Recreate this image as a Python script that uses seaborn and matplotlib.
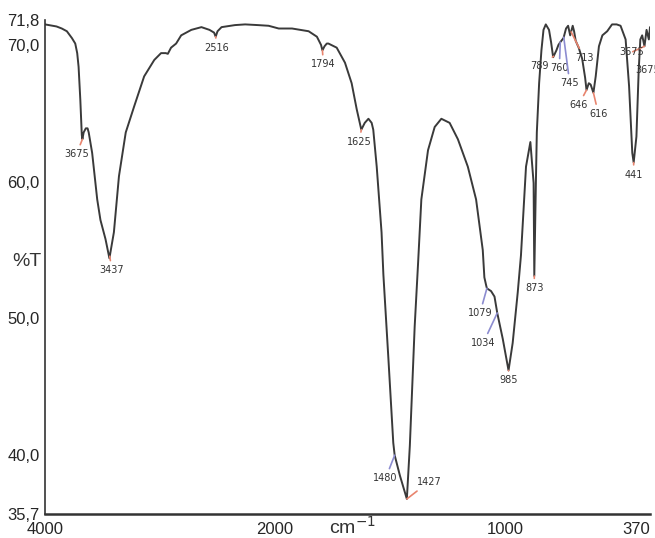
import numpy as np
import pandas as pd
import seaborn as sns
import matplotlib.pyplot as plt

# ---------------- DATA ------------------
wavenumber = [4000, 3900, 3854, 3810, 3766, 3737, 3720, 3708, 3693, 3680,
              3675, 3664, 3645, 3630, 3620, 3590, 3546, 3518, 3474, 3440,
              3401, 3357, 3298, 3225, 3138, 3050, 2991, 2950, 2932, 2904,
              2860, 2816, 2728, 2640, 2570, 2530, 2516, 2500, 2465, 2348,
              2260, 2150, 2056, 1984, 1926, 1854, 1818, 1800, 1794, 1785,
              1775, 1768, 1732, 1696, 1667, 1645, 1625, 1610, 1594, 1580,
              1573, 1558, 1537, 1529, 1507, 1486, 1480, 1457, 1427, 1414,
              1393, 1378, 1364, 1335, 1306, 1277, 1241, 1205, 1162, 1126,
              1097, 1090, 1082, 1079, 1061, 1046, 1034, 1010, 985, 967,
              945, 931, 909, 890, 876, 873, 866, 862, 852, 842,
              833, 823, 809, 800, 791, 777, 768, 760, 746, 735,
              726, 717, 706, 700, 693, 680, 665, 652, 646, 636,
              628, 616, 606, 592, 577, 556, 535, 515, 498, 476,
              461, 447, 441, 429, 419, 412, 404, 394, 385, 375, 370]
transmittance = [71.5, 71.35, 71.2, 71.0, 70.5, 70.1, 69.4, 68.4, 66.0, 63.4,
                 63.1, 63.6, 63.9, 63.9, 63.6, 62.1, 58.7, 57.2, 55.8, 54.4,
                 56.3, 60.4, 63.6, 65.5, 67.7, 68.9, 69.4, 69.4, 69.35, 69.8,
                 70.1, 70.7, 71.1, 71.3, 71.1, 70.9, 70.6, 71.0, 71.3, 71.45,
                 71.5, 71.45, 71.4, 71.2, 71.2, 71.0, 70.6, 70.0, 69.6, 69.9,
                 70.1, 70.1, 69.8, 68.7, 67.2, 65.3, 63.8, 64.3, 64.6, 64.3,
                 63.8, 61.1, 56.3, 53.2, 47.0, 40.9, 40.0, 38.5, 36.8, 40.7,
                 49.4, 54.1, 58.7, 62.3, 64.0, 64.6, 64.3, 63.1, 61.1, 58.7,
                 55.0, 53.0, 52.4, 52.2, 52.0, 51.6, 50.4, 48.5, 46.2, 48.2,
                 51.9, 54.6, 61.1, 62.9, 59.9, 53.1, 60.0, 63.6, 67.2, 69.6,
                 71.1, 71.5, 71.1, 70.2, 69.1, 69.6, 70.0, 70.2, 70.5, 71.2,
                 71.4, 70.7, 71.4, 71.0, 70.3, 69.8, 69.0, 67.6, 66.7, 67.2,
                 67.1, 66.5, 67.7, 69.9, 70.7, 71.0, 71.5, 71.5, 71.4, 70.4,
                 67.0, 62.1, 61.4, 63.3, 68.2, 70.4, 70.7, 69.9, 71.1, 70.4, 71.3]

peak_wn = [3675, 3437, 2516, 1794, 1625, 1480, 1427, 1079, 1034, 985,
           873, 789, 760, 745, 713, 646, 616, 441]
peak_labels = [str(p) for p in peak_wn]
# label offsets (pixels, +y up) and marker colours
peak_offsets = [(-6, -15), (2, -14), (1, -11), (1, -14), (-2, -12), (-9, -23),
                (22, 17), (-7, -25), (-14, -30), (0, -10), (0, -12), (-14, -10),
                (-1, -26), (6, -46), (13, -26), (-8, -15), (5, -21), (0, -12)]
RED = "#e8846e"
BLUE = "#8c8cd0"
peak_colors = [RED, RED, RED, RED, RED, BLUE, RED, BLUE, BLUE, RED,
               RED, RED, BLUE, BLUE, RED, RED, RED, RED]

y_major = [35.7, 40.0, 50.0, 60.0, 70.0, 71.8]
y_minor = list(range(36, 71, 2))
x_major = [4000, 2000, 1000, 370]
x_minor = [3600, 3200, 2800, 2400, 1800, 1600, 1400, 1200, 800, 600, 400]

df = pd.DataFrame({"wn": wavenumber, "T": transmittance})


def fwd(x):
    x = np.asarray(x, dtype=float)
    return np.where(x > 2000, 2000 + (x - 2000) / 2.0, x)


def inv(u):
    u = np.asarray(u, dtype=float)
    return np.where(u > 2000, 2000 + 2.0 * (u - 2000), u)


# ---------------- PLOT ------------------
sns.set_style("white")
plt.rcParams["font.family"] = ["Liberation Sans", "DejaVu Sans"]

fig = plt.figure(figsize=(6.55, 5.38), dpi=100)
ax = fig.add_axes([45 / 655, 1 - 514 / 538, 605 / 655, (514 - 20.3) / 538])

sns.lineplot(data=df, x="wn", y="T", ax=ax, color="#3a3a3a", linewidth=1.4,
             estimator=None)

ax.set_xscale("function", functions=(fwd, inv))
ax.set_xlim(4000, 370)
ax.set_ylim(35.7, 71.8)

ax.set_xticks(x_major)
ax.set_xticklabels([str(v) for v in x_major])
ax.set_xticks(x_minor, minor=True)
ax.set_yticks(y_major)
ax.set_yticklabels([f"{v:.1f}".replace(".", ",") for v in y_major])
ax.set_yticks(y_minor, minor=True)

ax.tick_params(axis="x", which="both", direction="in", length=4, width=1.2,
               color="#333333", labelsize=12, pad=6)
ax.tick_params(axis="y", which="both", direction="out", length=3, width=1.2,
               color="#333333", labelsize=12, pad=1)
for lab in ax.get_xticklabels():
    if lab.get_text() == "370":
        lab.set_ha("right")

for s in ["top", "right"]:
    ax.spines[s].set_visible(False)
ax.spines["left"].set_color("#333333")
ax.spines["left"].set_linewidth(1.2)
ax.spines["bottom"].set_color("#333333")
ax.spines["bottom"].set_linewidth(1.8)
ax.set_xlabel("")
ax.set_ylabel("")

# peak labels
wn_asc = np.array(wavenumber[::-1], dtype=float)
t_asc = np.array(transmittance[::-1], dtype=float)
for p, lab, (dx, dy), c in zip(peak_wn, peak_labels, peak_offsets, peak_colors):
    yv = np.interp(p, wn_asc, t_asc)
    ax.annotate(lab, xy=(p, yv), xytext=(dx * 0.72, dy * 0.72),
                textcoords="offset points", ha="center", va="center",
                fontsize=7, family="DejaVu Sans", color="#333333",
                arrowprops=dict(arrowstyle="-", color=c, lw=1.2,
                                shrinkA=1, shrinkB=0))

# the two stray labels at the right edge
ax.annotate("3675", xy=(394, np.interp(394, wn_asc, t_asc)), xytext=(-13 * 0.72, -6 * 0.72),
            textcoords="offset points", ha="center", va="center", fontsize=7,
            family="DejaVu Sans", color="#333333",
            arrowprops=dict(arrowstyle="-", color=RED, lw=1.2, shrinkA=1, shrinkB=0))
ax.text(433, 68.2, "3675", ha="left", va="center", fontsize=7,
        family="DejaVu Sans", color="#333333", clip_on=False)

fig.text(12 / 655, 1 - 262 / 538, "%T", fontsize=14, va="center", ha="left",
         color="#333333")
fig.text(352 / 655, 1 - 527 / 538, r"cm$^{-1}$", fontsize=14, va="center",
         ha="center", color="#333333")

fig.savefig("out.png", dpi=100, facecolor="white")
